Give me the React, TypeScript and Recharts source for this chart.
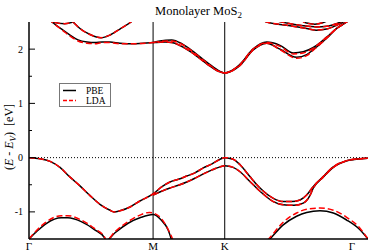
import { LineChart, Line, XAxis, YAxis, ReferenceLine } from "recharts";

// k-path: Γ – M – K – Γ (path length units)
const kTicks = [0, 0.5774, 0.9107, 1.5774];
const kLabels = ["Γ", "M", "K", "Γ"];
const yTicks = [-1, -0.5, 0, 0.5, 1, 1.5, 2];

type Pt = [number, number]; // [k, E - Ev]

// ---- valence bands ----
const vbTop: Pt[] = [
  [0, 0.0], [0.051, -0.02], [0.098, -0.07], [0.144, -0.18], [0.191, -0.36],
  [0.237, -0.52], [0.284, -0.7], [0.33, -0.86], [0.377, -0.97], [0.395, -1.0],
  [0.423, -0.98], [0.47, -0.91], [0.516, -0.8], [0.5774, -0.67],
  [0.617, -0.54], [0.656, -0.45], [0.695, -0.4], [0.734, -0.34], [0.772, -0.28],
  [0.811, -0.19], [0.85, -0.12], [0.889, -0.03], [0.9107, 0.0],
  [0.95, -0.03], [0.982, -0.13], [1.028, -0.35], [1.075, -0.56], [1.137, -0.75],
  [1.183, -0.81], [1.222, -0.81], [1.261, -0.78], [1.292, -0.69], [1.323, -0.53],
  [1.369, -0.35], [1.416, -0.17], [1.478, -0.055], [1.54, -0.02], [1.5774, -0.01],
];
const vbSplit: Pt[] = [
  [0.5774, -0.69], [0.617, -0.62], [0.656, -0.56], [0.695, -0.51], [0.734, -0.45],
  [0.772, -0.38], [0.811, -0.3], [0.85, -0.23], [0.889, -0.17], [0.9107, -0.15],
  [0.95, -0.18], [0.982, -0.26], [1.028, -0.44], [1.075, -0.62], [1.137, -0.81],
  [1.183, -0.87], [1.233, -0.88], [1.276, -0.84], [1.307, -0.7], [1.323, -0.56],
  [1.369, -0.36], [1.416, -0.18], [1.478, -0.06], [1.54, -0.02], [1.5774, -0.01],
];
const vbLowLeftPbe: Pt[] = [
  [0, -1.5], [0.036, -1.36], [0.082, -1.21], [0.15, -1.11], [0.181, -1.11],
  [0.243, -1.18], [0.306, -1.33], [0.352, -1.48], [0.358, -1.53], [0.399, -1.39],
  [0.461, -1.21], [0.522, -1.1], [0.5774, -1.05], [0.615, -1.15], [0.647, -1.33],
  [0.662, -1.5], [0.68, -1.75],
];
const vbLowLeftLda: Pt[] = [
  [0, -1.5], [0.036, -1.34], [0.082, -1.18], [0.15, -1.07], [0.181, -1.07],
  [0.243, -1.15], [0.306, -1.31], [0.352, -1.47], [0.358, -1.53], [0.399, -1.37],
  [0.461, -1.18], [0.522, -1.05], [0.56, -1.01], [0.5774, -1.02], [0.615, -1.12],
  [0.647, -1.32], [0.668, -1.5], [0.69, -1.75],
];
const vbLowRightPbe: Pt[] = [
  [1.05, -1.75], [1.121, -1.5], [1.183, -1.24], [1.245, -1.08], [1.292, -1.01],
  [1.354, -0.98], [1.416, -1.02], [1.478, -1.15], [1.54, -1.33], [1.5774, -1.5],
];
const vbLowRightLda: Pt[] = [
  [1.05, -1.75], [1.115, -1.5], [1.183, -1.19], [1.245, -1.02], [1.292, -0.95],
  [1.354, -0.93], [1.416, -0.97], [1.478, -1.1], [1.54, -1.3], [1.5774, -1.5],
];

// ---- conduction bands ----
const cbLowPbe: Pt[] = [
  [0, 2.9], [0.05, 2.72], [0.107, 2.5], [0.158, 2.35], [0.191, 2.26], [0.228, 2.17],
  [0.27, 2.13], [0.307, 2.12], [0.34, 2.13], [0.377, 2.13], [0.423, 2.11],
  [0.493, 2.1], [0.5774, 2.12], [0.633, 2.13], [0.664, 2.12], [0.749, 1.96],
  [0.827, 1.73], [0.889, 1.58], [0.9107, 1.56], [0.95, 1.61], [0.982, 1.7],
  [1.042, 1.98], [1.106, 2.11], [1.168, 2.0], [1.245, 1.85], [1.292, 1.9],
  [1.323, 1.99], [1.385, 2.2], [1.431, 2.38], [1.478, 2.5], [1.54, 2.7],
];
const cbLowLda: Pt[] = [
  [0, 2.9], [0.05, 2.72], [0.107, 2.5], [0.158, 2.34], [0.191, 2.24], [0.228, 2.15],
  [0.27, 2.11], [0.307, 2.1], [0.34, 2.12], [0.377, 2.12], [0.423, 2.1],
  [0.493, 2.1], [0.5774, 2.12], [0.633, 2.13], [0.664, 2.12], [0.749, 1.96],
  [0.827, 1.73], [0.889, 1.58], [0.9107, 1.56], [0.95, 1.61], [0.982, 1.7],
  [1.042, 1.98], [1.106, 2.11], [1.168, 1.99], [1.245, 1.83], [1.292, 1.88],
  [1.323, 1.98], [1.385, 2.2], [1.431, 2.38], [1.478, 2.5], [1.54, 2.7],
];
const cbUpPbe: Pt[] = [
  [0.5774, 2.12], [0.609, 2.15], [0.664, 2.17], [0.711, 2.1], [0.749, 2.0],
  [0.827, 1.76], [0.889, 1.59], [0.9107, 1.56], [0.95, 1.62], [0.982, 1.72],
  [1.042, 2.0], [1.106, 2.13], [1.168, 2.07], [1.23, 1.93], [1.276, 1.95],
  [1.323, 2.03], [1.385, 2.22], [1.431, 2.38], [1.478, 2.5], [1.54, 2.7],
];
const cbUpLda: Pt[] = [
  [0.5774, 2.12], [0.609, 2.14], [0.664, 2.15], [0.711, 2.09], [0.749, 1.99],
  [0.827, 1.75], [0.889, 1.58], [0.9107, 1.56], [0.95, 1.62], [0.982, 1.72],
  [1.042, 2.0], [1.106, 2.12], [1.168, 2.05], [1.23, 1.91], [1.276, 1.93],
  [1.323, 2.02], [1.385, 2.22], [1.431, 2.38], [1.478, 2.5], [1.54, 2.7],
];
const cbGM2: Pt[] = [
  [0.18, 2.6], [0.205, 2.5], [0.237, 2.38], [0.284, 2.27], [0.335, 2.21],
  [0.377, 2.26], [0.423, 2.37], [0.475, 2.5], [0.52, 2.65],
];
const cbGM3: Pt[] = [
  [0.08, 2.56], [0.121, 2.49], [0.165, 2.47], [0.205, 2.5], [0.24, 2.56],
];
const cbKG3: Pt[] = [
  [1.06, 2.6], [1.106, 2.5], [1.2, 2.44], [1.292, 2.38], [1.338, 2.35],
  [1.385, 2.37], [1.431, 2.44], [1.462, 2.5], [1.5, 2.6],
];
const cbKG4: Pt[] = [
  [1.121, 2.55], [1.2, 2.48], [1.276, 2.43], [1.338, 2.41], [1.385, 2.42],
  [1.431, 2.47], [1.462, 2.52],
];
const cbKG5: Pt[] = [
  [1.26, 2.55], [1.292, 2.48], [1.33, 2.46], [1.369, 2.49], [1.4, 2.55],
];

const pbeBands = [vbTop, vbSplit, vbLowLeftPbe, vbLowRightPbe, cbLowPbe, cbUpPbe, cbGM2, cbGM3, cbKG3, cbKG4, cbKG5];
const ldaBands = [vbTop, vbSplit, vbLowLeftLda, vbLowRightLda, cbLowLda, cbUpLda, cbGM2, cbGM3, cbKG3, cbKG4, cbKG5];

const W = 374;
const H = 252;
const PLOT_L = 29;
const PLOT_R = 368;
const PLOT_B = 239;
const FONT = "'Liberation Serif', 'Times New Roman', serif";

const toRows = (pts: Pt[]) => pts.map(([k, e]) => ({ k, e }));

function LeftTick(props: any) {
  const { y, payload } = props;
  const major = Number.isInteger(payload.value);
  return (
    <g>
      <line x1={PLOT_L} x2={PLOT_L + (major ? 6 : 3)} y1={y} y2={y} stroke="#000" />
      {major && (
        <text x={PLOT_L - 6} y={y + 3.5} textAnchor="end" fontSize={10} fontFamily={FONT} fill="#000">
          {payload.value}
        </text>
      )}
    </g>
  );
}

function RightTick(props: any) {
  const { y, payload } = props;
  const major = Number.isInteger(payload.value);
  return <line x1={PLOT_R - (major ? 6 : 3)} x2={PLOT_R} y1={y} y2={y} stroke="#000" />;
}

function KTick(props: any) {
  const { x, index } = props;
  return (
    <text x={x} y={PLOT_B + 11} textAnchor="middle" fontSize={11} fontFamily={FONT} fill="#000">
      {kLabels[index]}
    </text>
  );
}

export default function App() {
  return (
    <div style={{ position: "absolute", left: 0, top: 0, width: W, height: H, background: "#fff" }}>
      <LineChart width={W} height={H} margin={{ top: 22, right: W - PLOT_R, bottom: 0, left: 0 }}>
        <XAxis
          dataKey="k"
          type="number"
          domain={[0, kTicks[3]]}
          ticks={kTicks}
          allowDataOverflow
          height={H - PLOT_B}
          tick={<KTick />}
          tickLine={false}
          axisLine={{ stroke: "#000", strokeWidth: 1.5 }}
        />
        <XAxis
          xAxisId="top"
          dataKey="k"
          type="number"
          orientation="top"
          domain={[0, kTicks[3]]}
          height={0}
          tick={false}
          tickLine={false}
          axisLine={{ stroke: "#000", strokeWidth: 1.5 }}
        />
        <YAxis
          type="number"
          domain={[-1.5, 2.5]}
          ticks={yTicks}
          allowDataOverflow
          width={PLOT_L}
          tick={<LeftTick />}
          tickLine={false}
          axisLine={{ stroke: "#000", strokeWidth: 1.5 }}
        />
        <YAxis
          yAxisId="right"
          orientation="right"
          type="number"
          domain={[-1.5, 2.5]}
          ticks={yTicks}
          width={0}
          tick={<RightTick />}
          tickLine={false}
          axisLine={{ stroke: "#000", strokeWidth: 1.5 }}
        />
        <ReferenceLine y={0} stroke="#000" strokeDasharray="1 2" strokeWidth={1} />
        <ReferenceLine x={kTicks[1]} stroke="#000" strokeWidth={1} />
        <ReferenceLine x={kTicks[2]} stroke="#000" strokeWidth={1} />
        {pbeBands.map((b, i) => (
          <Line
            key={"pbe" + i}
            data={toRows(b)}
            dataKey="e"
            type="monotone"
            stroke="#000"
            strokeWidth={1.5}
            dot={false}
            activeDot={false}
            isAnimationActive={false}
          />
        ))}
        {ldaBands.map((b, i) => (
          <Line
            key={"lda" + i}
            data={toRows(b)}
            dataKey="e"
            type="monotone"
            stroke="#ff0000"
            strokeWidth={1.5}
            strokeDasharray="6 3"
            dot={false}
            activeDot={false}
            isAnimationActive={false}
          />
        ))}
      </LineChart>
      <svg width={W} height={H} style={{ position: "absolute", left: 0, top: 0, pointerEvents: "none" }}>
        <text x={(PLOT_L + PLOT_R) / 2} y={15} textAnchor="middle" fontSize={12.5} fontFamily={FONT} fill="#000">
          Monolayer MoS<tspan dy={3} fontSize={9}>2</tspan>
        </text>
        <text
          transform="rotate(-90)"
          x={-137}
          y={13}
          textAnchor="middle"
          fontSize={12}
          fontFamily={FONT}
          fill="#000"
          style={{ whiteSpace: "pre" }}
        >
          {"("}
          <tspan fontStyle="italic">E</tspan>
          {" - "}
          <tspan fontStyle="italic">E</tspan>
          <tspan fontStyle="italic" fontSize={9} dy={3}>V</tspan>
          <tspan dy={-3}>{")  [eV]"}</tspan>
        </text>
        <rect x={59.5} y={83.5} width={51} height={23} fill="#fff" stroke="#777" strokeWidth={1} />
        <line x1={63} x2={76} y1={90.5} y2={90.5} stroke="#000" strokeWidth={1.5} />
        <text x={86} y={94} fontSize={9.5} fontFamily={FONT} fill="#000">PBE</text>
        <line x1={63} x2={76} y1={100.5} y2={100.5} stroke="#ff0000" strokeWidth={1.5} strokeDasharray="4 2" />
        <text x={86} y={104} fontSize={9.5} fontFamily={FONT} fill="#000">LDA</text>
      </svg>
    </div>
  );
}
